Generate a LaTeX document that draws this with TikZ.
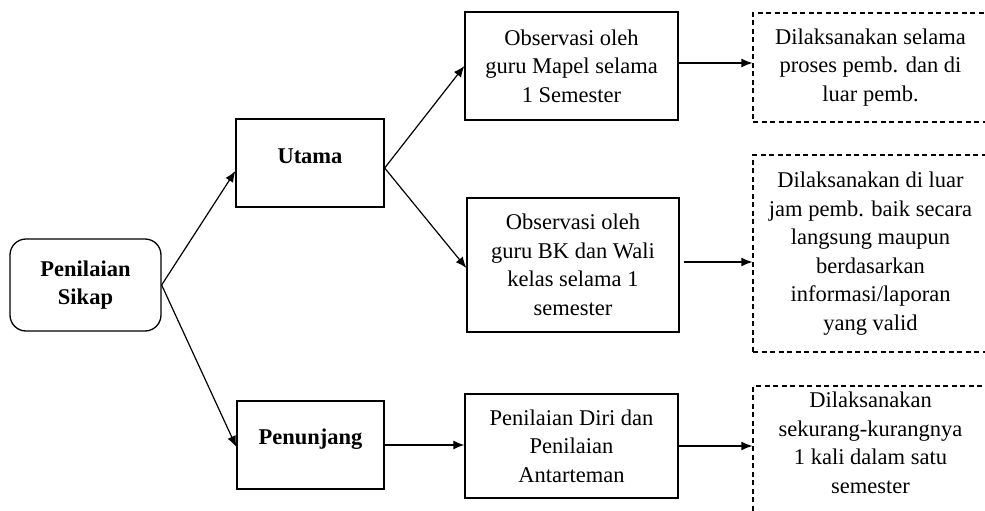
\documentclass[tikz,border=0pt]{standalone}
\usepackage{fontspec}
\setmainfont{Liberation Serif}
\usetikzlibrary{arrows.meta}
\begin{document}
\begin{tikzpicture}[x=1pt,y=-1pt,
  txt/.style={font=\fontsize{22.5}{28.5}\selectfont},
  box/.style={draw, line width=1.3pt, align=center, inner sep=0pt, txt},
  dbox/.style={draw, dash pattern=on 5pt off 3.5pt, line width=1.1pt, align=center, inner sep=0pt, txt},
  arr/.style={line width=1.2pt, -{Latex[length=11pt,width=9pt]}}]
\useasboundingbox (0,0) rectangle (985,511);
% left column
\node[box, rounded corners=16pt, minimum width=151pt, minimum height=92pt,
      font=\fontsize{22.5}{28.5}\selectfont\bfseries] (sikap) at (85.5,285) {Penilaian\\Sikap};
% middle column
\node[box, minimum width=148pt, minimum height=88pt, text height=15pt, text depth=15pt,
      font=\fontsize{22.5}{28.5}\selectfont\bfseries] (utama) at (310,163) {Utama};
\node[box, minimum width=147pt, minimum height=88pt, text height=15pt, text depth=17pt,
      font=\fontsize{22.5}{28.5}\selectfont\bfseries] (pen) at (310.5,445) {Penunjang};
% third column
\node[box, minimum width=213pt, minimum height=108pt] (mapel) at (571.5,66)
  {Observasi oleh\\guru Mapel selama\\1 Semester};
\node[box, minimum width=212pt, minimum height=134pt] (bk) at (573,265)
  {Observasi oleh\\guru BK dan Wali\\kelas selama 1\\semester};
\node[box, minimum width=213pt, minimum height=104pt] (diri) at (571.5,446)
  {Penilaian Diri dan\\Penilaian\\Antarteman};
% right column (dashed, cut by the right and bottom edges)
\node[dbox, minimum width=235pt, minimum height=109pt] (d1) at (870.5,67.5)
  {Dilaksanakan selama\\proses pemb. dan di\\luar pemb.};
\node[dbox, minimum width=235pt, minimum height=197pt] (d2) at (870.5,253.5)
  {Dilaksanakan di luar\\jam pemb. baik secara\\langsung maupun\\berdasarkan\\informasi/laporan\\yang valid};
\node[dbox, minimum width=235pt, minimum height=150pt] (d3) at (870.5,461) {};
\node[txt, align=center, inner sep=0pt] (d3t) at (870.5,443)
  {Dilaksanakan\\sekurang-kurangnya\\1 kali dalam satu\\semester};
% connectors
\draw[arr] (sikap.east) -- ([yshift=-8pt]utama.west);
\draw[arr] (sikap.east) -- ([yshift=-2pt]pen.west);
\draw[arr] ([yshift=-5pt]utama.east) -- (mapel.west);
\draw[arr] ([yshift=-5pt]utama.east) -- ([yshift=-3pt]bk.west);
\draw[arr] (pen.east) -- (pen.east -| diri.west);
\draw[arr] ([yshift=3pt]mapel.east) -- ([yshift=3pt]mapel.east -| d1.west);
\draw[arr] ([xshift=4pt,yshift=3pt]bk.east) -- ([yshift=3pt]bk.east -| d2.west);
\draw[arr] (diri.east) -- (diri.east -| d3.west);
\end{tikzpicture}
\end{document}
